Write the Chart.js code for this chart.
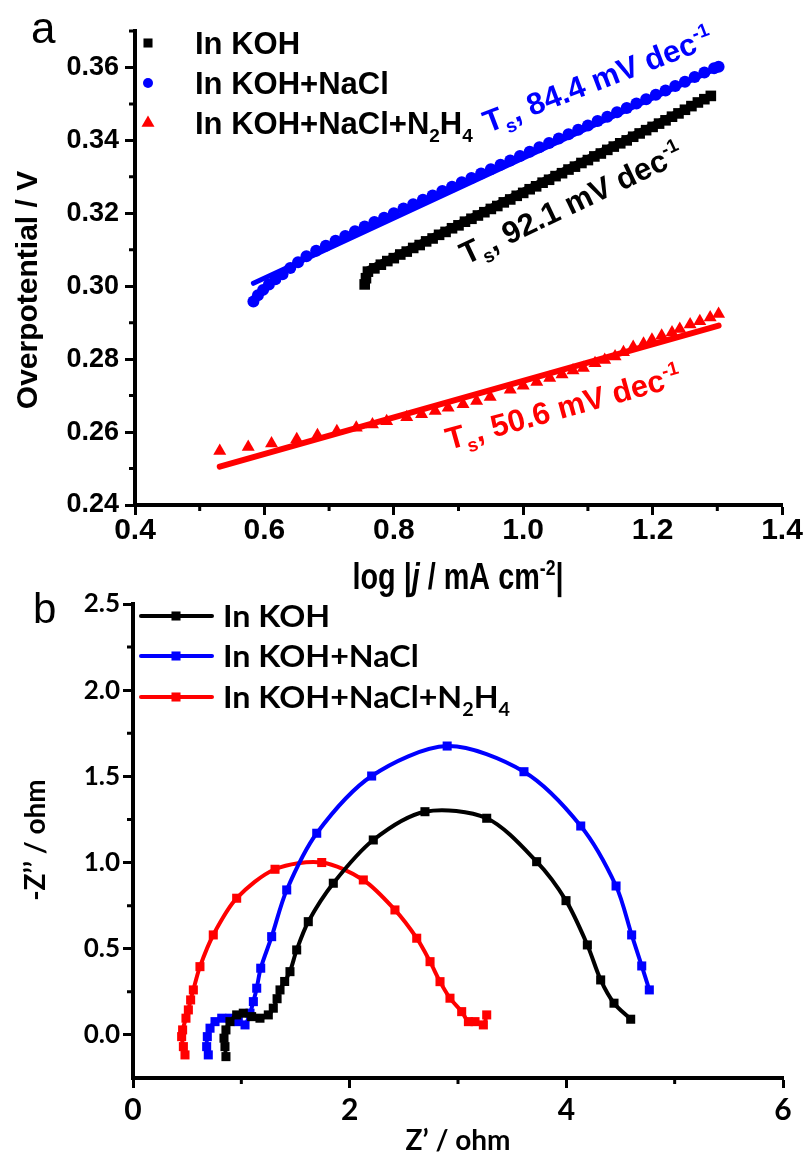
<!DOCTYPE html>
<html>
<head>
<meta charset="utf-8">
<script src="https://cdn.jsdelivr.net/npm/chart.js@4.4.1/dist/chart.umd.min.js"></script>
<style>
  html, body { margin: 0; padding: 0; background: #fff; }
  .panel { position: absolute; left: 0; width: 807px; }
  #top { top: 0; height: 600px; }
  #bottom { top: 560px; height: 595px; }
</style>
</head>
<body>
<div class="panel" id="top"><canvas id="tafelChart"></canvas></div>
<div class="panel" id="bottom"><canvas id="eisChart"></canvas></div>
<script>
// ---- panel a: Tafel plot ----
const tafelXTicks = [0.4, 0.6, 0.8, 1.0, 1.2, 1.4];
const tafelXMinor = [0.5, 0.7, 0.9, 1.1, 1.3];
const tafelYTicks = [0.24, 0.26, 0.28, 0.3, 0.32, 0.34, 0.36];
const tafelYMinor = [0.25, 0.27, 0.29, 0.31, 0.33, 0.35, 0.37];

const seriesNames = ["In KOH", "In KOH+NaCl", "In KOH+NaCl+N2H4"];
const seriesColors = ["#000000", "#0000ff", "#ff0000"];
const tafelSlopes = ["92.1", "84.4", "50.6"];

const tafelKoh = [
  [0.755, 0.3005], [0.757, 0.3022], [0.76, 0.304], [0.77, 0.3049], [0.78, 0.3059],
  [0.79, 0.3069], [0.8, 0.3077], [0.81, 0.3087], [0.82, 0.3095], [0.83, 0.3105],
  [0.84, 0.3113], [0.85, 0.3123], [0.86, 0.3131], [0.87, 0.3141], [0.88, 0.3149],
  [0.89, 0.3159], [0.9, 0.3167], [0.91, 0.3177], [0.92, 0.3185], [0.93, 0.3194],
  [0.94, 0.3203], [0.95, 0.3212], [0.96, 0.322], [0.97, 0.323], [0.98, 0.3238],
  [0.99, 0.3248], [1.0, 0.3256], [1.01, 0.3266], [1.02, 0.3274], [1.03, 0.3284],
  [1.04, 0.3292], [1.05, 0.3302], [1.06, 0.331], [1.07, 0.332], [1.08, 0.3328],
  [1.09, 0.3338], [1.1, 0.3346], [1.11, 0.3356], [1.12, 0.3364], [1.13, 0.3374],
  [1.14, 0.3383], [1.15, 0.3392], [1.16, 0.34], [1.17, 0.341], [1.18, 0.3419],
  [1.19, 0.3428], [1.2, 0.3437], [1.21, 0.3446], [1.22, 0.3455], [1.23, 0.3465],
  [1.24, 0.3474], [1.25, 0.3484], [1.26, 0.3494], [1.27, 0.3504], [1.28, 0.3513],
  [1.29, 0.3522],
];
const tafelNacl = [
  [0.583, 0.2958], [0.59, 0.2975], [0.598, 0.299], [0.607, 0.3005], [0.617, 0.3019],
  [0.628, 0.3033], [0.64, 0.305], [0.652, 0.3066], [0.665, 0.3082], [0.68, 0.3097],
  [0.695, 0.3111], [0.71, 0.3125], [0.725, 0.3138], [0.74, 0.3151], [0.755, 0.3164],
  [0.77, 0.3176], [0.785, 0.3188], [0.8, 0.32], [0.815, 0.3213], [0.83, 0.3225],
  [0.845, 0.3237], [0.86, 0.3249], [0.875, 0.3261], [0.89, 0.3273], [0.905, 0.3285],
  [0.92, 0.3297], [0.935, 0.3309], [0.95, 0.3321], [0.965, 0.3333], [0.98, 0.3345],
  [0.995, 0.3357], [1.01, 0.3369], [1.025, 0.3381], [1.04, 0.3393], [1.055, 0.3405],
  [1.07, 0.3417], [1.085, 0.3429], [1.1, 0.3441], [1.115, 0.3453], [1.13, 0.3465],
  [1.145, 0.3477], [1.16, 0.3489], [1.175, 0.3501], [1.19, 0.3513], [1.205, 0.3525],
  [1.22, 0.3537], [1.235, 0.3549], [1.25, 0.3561], [1.265, 0.3574], [1.28, 0.3586],
  [1.295, 0.3598], [1.302, 0.3602],
];
const tafelN2h4 = [
  [0.531, 0.2548], [0.575, 0.2559], [0.611, 0.2569], [0.65, 0.258], [0.682, 0.2591],
  [0.712, 0.2602], [0.742, 0.2612], [0.767, 0.2621], [0.789, 0.263], [0.82, 0.2641],
  [0.843, 0.2649], [0.864, 0.2658], [0.884, 0.2667], [0.907, 0.2676], [0.928, 0.2685],
  [0.949, 0.2696], [0.98, 0.2716], [1.0, 0.2727], [1.021, 0.2737], [1.041, 0.2748],
  [1.06, 0.2758], [1.077, 0.2769], [1.093, 0.2776], [1.111, 0.2789], [1.126, 0.2798],
  [1.142, 0.2807], [1.155, 0.2819], [1.17, 0.2833], [1.186, 0.2842], [1.199, 0.2853],
  [1.214, 0.2864], [1.23, 0.2873], [1.242, 0.2883], [1.258, 0.2895], [1.273, 0.2904],
  [1.289, 0.2914], [1.302, 0.2924],
];
const fitKoh = [[0.757, 0.3045], [1.291, 0.3525]];
const fitNacl = [[0.583, 0.3008], [1.302, 0.36]];
const fitN2h4 = [[0.531, 0.2505], [1.302, 0.2892]];

// ---- panel b: Nyquist plot ----
const eisXTicks = [0, 2, 4, 6];
const eisXMinor = [1, 3, 5];
const eisYTicks = [0, 0.5, 1.0, 1.5, 2.0, 2.5];
const eisYMinor = [0.25, 0.75, 1.25, 1.75, 2.25];

const eisKoh = [
  [0.858, -0.126], [0.849, -0.068], [0.84, -0.019], [0.858, 0.029], [0.895, 0.077],
  [0.957, 0.116], [1.018, 0.126], [1.095, 0.106], [1.172, 0.097], [1.249, 0.116],
  [1.295, 0.155], [1.33, 0.21], [1.357, 0.261], [1.4, 0.31], [1.449, 0.367],
  [1.511, 0.493], [1.618, 0.657], [1.849, 0.88], [2.218, 1.131], [2.695, 1.295],
  [3.265, 1.257], [3.726, 1.005], [3.997, 0.779], [4.194, 0.522], [4.317, 0.319],
  [4.44, 0.184], [4.594, 0.091],
];
const eisNacl = [
  [0.695, -0.116], [0.68, -0.068], [0.686, -0.01], [0.711, 0.039], [0.757, 0.077],
  [0.819, 0.097], [0.895, 0.097], [0.972, 0.077], [1.034, 0.058], [1.08, 0.126],
  [1.111, 0.193], [1.142, 0.271], [1.179, 0.387], [1.28, 0.57], [1.419, 0.841],
  [1.696, 1.17], [2.203, 1.502], [2.9, 1.676], [3.609, 1.527], [4.133, 1.212],
  [4.459, 0.864], [4.603, 0.58], [4.696, 0.4], [4.766, 0.261],
];
const eisN2h4 = [
  [0.48, -0.116], [0.465, -0.068], [0.449, -0.01], [0.458, 0.029], [0.489, 0.097],
  [0.511, 0.145], [0.532, 0.203], [0.557, 0.261], [0.618, 0.396], [0.741, 0.58],
  [0.957, 0.793], [1.311, 0.961], [1.742, 1.0], [2.126, 0.899], [2.418, 0.725],
  [2.619, 0.561], [2.742, 0.425], [2.834, 0.309], [2.926, 0.213], [3.034, 0.135],
  [3.096, 0.077], [3.157, 0.077], [3.234, 0.058], [3.265, 0.116],
];

const ARIAL = '"Liberation Sans", Arial, sans-serif';
const CALIBRI = 'Lato, "Open Sans", sans-serif';

function hasFont(name) {
  const c = document.createElement("canvas").getContext("2d");
  c.font = "40px monospace";
  const a = c.measureText("0.4 log mA").width;
  c.font = `40px "${name}", monospace`;
  return c.measureText("0.4 log mA").width !== a;
}
const narrow = hasFont("Liberation Sans Narrow");
const xTickFont = narrow
  ? { family: '"Liberation Sans Narrow"', size: 36, weight: "bold" }
  : { family: ARIAL, size: 30, weight: "bold" };

const toXY = (arr) => arr.map(([x, y]) => ({ x, y }));

// split "N2H4" style labels into parts with subscript digits
function chem(label) {
  return label.split(/(\d)/).filter(Boolean).map((t) => (/\d/.test(t) ? { t, sub: true } : { t }));
}

function richText(ctx, parts, x, y, opt) {
  const { size, family, color = "#000", angle = 0, sx = 1, align = "left" } = opt;
  const fontFor = (p) =>
    `${p.italic ? "italic " : ""}bold ${p.sub || p.sup ? Math.round(size * 0.62) : size}px ${family}`;
  let w = 0;
  parts.forEach((p) => {
    ctx.font = fontFor(p);
    w += ctx.measureText(p.t).width;
  });
  ctx.save();
  ctx.translate(x, y);
  ctx.rotate((angle * Math.PI) / 180);
  ctx.scale(sx, 1);
  ctx.fillStyle = color;
  ctx.textBaseline = "alphabetic";
  ctx.textAlign = "left";
  let cx = align === "center" ? -w / 2 : 0;
  parts.forEach((p) => {
    ctx.font = fontFor(p);
    const dy = p.sub ? size * 0.25 : p.sup ? -size * 0.4 : 0;
    ctx.fillText(p.t, cx, dy);
    cx += ctx.measureText(p.t).width;
  });
  ctx.restore();
}

function minorTicks(ctx, scale, values, len) {
  ctx.beginPath();
  values.forEach((v) => {
    const p = scale.getPixelForValue(v);
    if (scale.isHorizontal()) {
      ctx.moveTo(p, scale.top);
      ctx.lineTo(p, scale.top + len);
    } else {
      ctx.moveTo(scale.right, p);
      ctx.lineTo(scale.right - len, p);
    }
  });
  ctx.stroke();
}

function axis(min, max, ticks, fmt, font, tickPad, fitSize) {
  return {
    type: "linear",
    min,
    max,
    afterBuildTicks: (s) => {
      s.ticks = ticks.map((v) => ({ value: v }));
    },
    afterFit: (s) => {
      if (s.isHorizontal()) {
        s.height = fitSize;
        s.paddingLeft = 0;
        s.paddingRight = 0;
      } else {
        s.width = fitSize;
        s.paddingTop = 0;
        s.paddingBottom = 0;
      }
    },
    ticks: { callback: fmt, font, color: "#000", padding: tickPad, autoSkip: false, maxRotation: 0 },
    grid: { drawOnChartArea: false, color: "#000", tickLength: 10, tickWidth: 3 },
    border: { color: "#000", width: 4 },
  };
}

const tafelStyles = ["rect", "circle", "triangle"];
const tafelRadius = [6.4, 5, 7.5];

const tafelDecor = {
  id: "tafelDecor",
  afterDraw(chart) {
    const { ctx } = chart;
    ctx.save();
    ctx.strokeStyle = "#000";
    ctx.lineWidth = 3;
    minorTicks(ctx, chart.scales.x, tafelXMinor, 6);
    minorTicks(ctx, chart.scales.y, tafelYMinor, 6);

    // legend
    const rows = [43, 83, 123];
    seriesNames.forEach((name, i) => {
      ctx.fillStyle = seriesColors[i];
      Chart.helpers.drawPoint(ctx, { pointStyle: tafelStyles[i], radius: tafelRadius[i], borderWidth: 0, rotation: 0 }, 148, rows[i]);
      richText(ctx, chem(name), 195, rows[i] + 11, { size: 31, family: ARIAL });
    });

    // slope labels
    const spots = [
      [466, 265, -25.5],
      [488, 133, -21],
      [449, 450, -15.5],
    ];
    spots.forEach(([x, y, a], i) => {
      richText(ctx, [{ t: "T" }, { t: "s", sub: true }, { t: ", " + tafelSlopes[i] + " mV dec" }, { t: "-1", sup: true }],
        x, y, { size: 31, family: ARIAL, color: seriesColors[i], angle: a });
    });

    // axis titles
    richText(ctx, [{ t: "Overpotential / V" }], 37, 290, { size: 30, family: ARIAL, angle: -90, align: "center" });
    richText(ctx, [{ t: "log |" }, { t: "j", italic: true }, { t: " / mA cm" }, { t: "-2", sup: true }, { t: "|" }],
      458, 589, { size: 36, family: ARIAL, sx: 0.8, align: "center" });

    ctx.font = `44px ${ARIAL}`;
    ctx.fillStyle = "#000";
    ctx.textAlign = "left";
    ctx.textBaseline = "alphabetic";
    ctx.fillText("a", 31, 43);
    ctx.restore();
  },
};

const eisDecor = {
  id: "eisDecor",
  afterDraw(chart) {
    const { ctx } = chart;
    ctx.save();
    ctx.strokeStyle = "#000";
    ctx.lineWidth = 3;
    minorTicks(ctx, chart.scales.x, eisXMinor, 6);
    minorTicks(ctx, chart.scales.y, eisYMinor, 6);

    const rows = [56, 96, 137];
    seriesNames.forEach((name, i) => {
      ctx.strokeStyle = seriesColors[i];
      ctx.fillStyle = seriesColors[i];
      ctx.lineWidth = 4;
      ctx.lineCap = "round";
      ctx.beginPath();
      ctx.moveTo(141, rows[i]);
      ctx.lineTo(212, rows[i]);
      ctx.stroke();
      Chart.helpers.drawPoint(ctx, { pointStyle: "rect", radius: 6.4, borderWidth: 0, rotation: 0 }, 176, rows[i]);
      richText(ctx, chem(name), 223, rows[i] + 11, { size: 31, family: CALIBRI, sx: 1.04 });
    });

    richText(ctx, [{ t: "Z\u2019 / ohm" }], 458, 590, { size: 28, family: CALIBRI, align: "center" });
    richText(ctx, [{ t: "-Z\u2019\u2019 / ohm" }], 45, 280, { size: 28, family: CALIBRI, angle: -90, align: "center" });

    ctx.font = `42px ${ARIAL}`;
    ctx.fillStyle = "#000";
    ctx.textAlign = "left";
    ctx.textBaseline = "alphabetic";
    ctx.fillText("b", 33, 63);
    ctx.restore();
  },
};

function pointSet(data, i, style, radius) {
  return {
    data: toXY(data),
    showLine: false,
    pointStyle: style,
    pointRadius: radius,
    pointBorderWidth: 0,
    pointBackgroundColor: seriesColors[i],
    pointBorderColor: seriesColors[i],
  };
}

function fitSet(data, i, width) {
  return {
    data: toXY(data),
    showLine: true,
    pointRadius: 0,
    borderColor: seriesColors[i],
    borderWidth: width,
    borderCapStyle: "round",
  };
}

function eisSet(data, i) {
  return {
    data: toXY(data),
    showLine: true,
    tension: 0.3,
    borderColor: seriesColors[i],
    borderWidth: 4,
    pointStyle: "rect",
    pointRadius: 6.4,
    pointBorderWidth: 0,
    pointBackgroundColor: seriesColors[i],
  };
}

const tafelChart = new Chart(document.getElementById("tafelChart"), {
  type: "scatter",
  data: {
    datasets: [
      pointSet(tafelKoh, 0, "rect", 7.5),
      pointSet(tafelNacl, 1, "circle", 6),
      pointSet(tafelN2h4, 2, "triangle", 7.5),
      fitSet(fitKoh, 0, 5),
      fitSet(fitNacl, 1, 5),
      fitSet(fitN2h4, 2, 6),
    ],
  },
  options: {
    responsive: true,
    maintainAspectRatio: false,
    animation: false,
    events: [],
    layout: { padding: { left: 0, top: 31, right: 25, bottom: 0 } },
    plugins: { legend: { display: false }, tooltip: { enabled: false } },
    scales: {
      x: axis(0.4, 1.4, tafelXTicks, (v) => v.toFixed(1), xTickFont, -2, 95),
      y: axis(0.24, 0.37, tafelYTicks, (v) => v.toFixed(2), { family: ARIAL, size: 27, weight: "bold" }, 6, 135),
    },
  },
  plugins: [tafelDecor],
});

const eisChart = new Chart(document.getElementById("eisChart"), {
  type: "scatter",
  data: {
    datasets: [eisSet(eisKoh, 0), eisSet(eisNacl, 1), eisSet(eisN2h4, 2)],
  },
  options: {
    responsive: true,
    maintainAspectRatio: false,
    animation: false,
    events: [],
    layout: { padding: { left: 0, top: 44, right: 24, bottom: 0 } },
    plugins: { legend: { display: false }, tooltip: { enabled: false } },
    scales: {
      x: axis(0, 6, eisXTicks, (v) => String(v), { family: CALIBRI, size: 30, weight: "bold" }, 4, 77),
      y: axis(-0.25, 2.5, eisYTicks, (v) => v.toFixed(1), { family: CALIBRI, size: 26, weight: "bold" }, 3, 133),
    },
  },
  plugins: [eisDecor],
});
</script>
</body>
</html>
